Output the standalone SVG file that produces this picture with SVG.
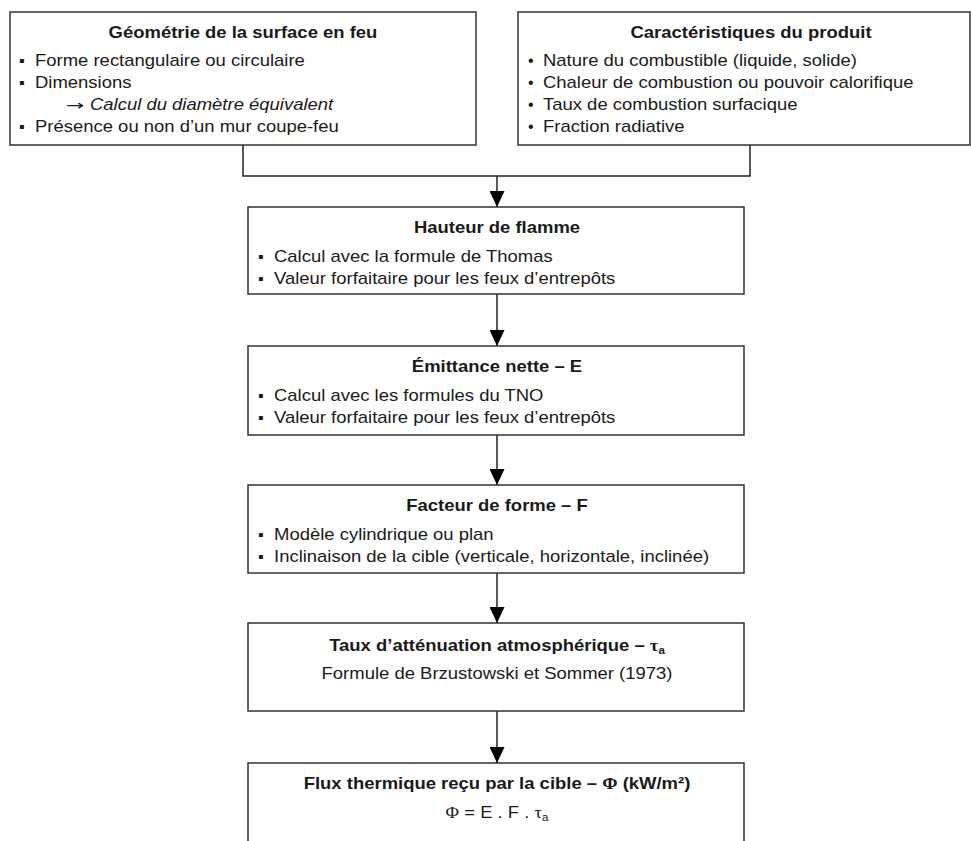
<svg xmlns="http://www.w3.org/2000/svg" width="971" height="841" viewBox="0 0 971 841">
<defs>
<style>
.box{fill:#fff;stroke:#333;stroke-width:1.5}
.t{font-family:"Liberation Sans",Arial,sans-serif;font-size:16px;fill:#1a1a1a}
.b{font-weight:bold;text-anchor:middle}
.c{text-anchor:middle}
.i{font-style:italic}
.sym{font-family:"Liberation Serif","Times New Roman",serif}
.ar{font-family:"DejaVu Sans",sans-serif;font-size:14px;fill:#1a1a1a}
.ln{fill:none;stroke:#222;stroke-width:1.5}
</style>
<marker id="ah" viewBox="0 0 16 15" refX="16" refY="7.5" markerWidth="16" markerHeight="15" markerUnits="userSpaceOnUse" orient="auto">
<path d="M0,0 L16,7.5 L0,15 Z" fill="#000"/>
</marker>
</defs>
<rect width="971" height="841" fill="#fff"/>
<g id="connectors">
<polyline class="ln" points="243,145 243,176 750,176 750,145"/>
<line class="ln" x1="497" y1="176" x2="497" y2="207" marker-end="url(#ah)"/>
<line class="ln" x1="497" y1="294" x2="497" y2="346" marker-end="url(#ah)"/>
<line class="ln" x1="497" y1="435" x2="497" y2="485" marker-end="url(#ah)"/>
<line class="ln" x1="497" y1="573" x2="497" y2="623" marker-end="url(#ah)"/>
<line class="ln" x1="497" y1="711" x2="497" y2="763" marker-end="url(#ah)"/>
</g>
<g id="geometrie">
<rect class="box" x="10" y="12" width="466" height="133"/>
<text class="t b" transform="translate(243,38) scale(1.155,1)">Géométrie de la surface en feu</text>
<text class="t" x="19" y="66">▪</text>
<text class="t" transform="translate(35,66) scale(1.155,1)">Forme rectangulaire ou circulaire</text>
<text class="t" x="19" y="88">▪</text>
<text class="t" transform="translate(35,88) scale(1.155,1)">Dimensions</text>
<text class="ar" transform="translate(66,110) scale(1.55,1)">→</text>
<text class="t i" transform="translate(90,110) scale(1.155,1)">Calcul du diamètre équivalent</text>
<text class="t" x="19" y="132">▪</text>
<text class="t" transform="translate(35,132) scale(1.155,1)">Présence ou non d’un mur coupe-feu</text>
</g>
<g id="produit">
<rect class="box" x="518" y="12" width="452" height="133"/>
<text class="t b" transform="translate(751,38) scale(1.155,1)">Caractéristiques du produit</text>
<text class="t" x="528" y="66">•</text>
<text class="t" transform="translate(543,66) scale(1.155,1)">Nature du combustible (liquide, solide)</text>
<text class="t" x="528" y="88">•</text>
<text class="t" transform="translate(543,88) scale(1.155,1)">Chaleur de combustion ou pouvoir calorifique</text>
<text class="t" x="528" y="110">•</text>
<text class="t" transform="translate(543,110) scale(1.155,1)">Taux de combustion surfacique</text>
<text class="t" x="528" y="132">•</text>
<text class="t" transform="translate(543,132) scale(1.155,1)">Fraction radiative</text>
</g>
<g id="hauteur">
<rect class="box" x="248" y="207" width="496" height="87"/>
<text class="t b" transform="translate(497,233) scale(1.155,1)">Hauteur de flamme</text>
<text class="t" x="258" y="262">▪</text>
<text class="t" transform="translate(274,262) scale(1.155,1)">Calcul avec la formule de Thomas</text>
<text class="t" x="258" y="284">▪</text>
<text class="t" transform="translate(274,284) scale(1.155,1)">Valeur forfaitaire pour les feux d’entrepôts</text>
</g>
<g id="emittance">
<rect class="box" x="248" y="346" width="496" height="89"/>
<text class="t b" transform="translate(497,372) scale(1.155,1)">Émittance nette – E</text>
<text class="t" x="258" y="401">▪</text>
<text class="t" transform="translate(274,401) scale(1.155,1)">Calcul avec les formules du TNO</text>
<text class="t" x="258" y="423">▪</text>
<text class="t" transform="translate(274,423) scale(1.155,1)">Valeur forfaitaire pour les feux d’entrepôts</text>
</g>
<g id="facteur">
<rect class="box" x="248" y="485" width="496" height="88"/>
<text class="t b" transform="translate(497,511) scale(1.155,1)">Facteur de forme – F</text>
<text class="t" x="258" y="540">▪</text>
<text class="t" transform="translate(274,540) scale(1.155,1)">Modèle cylindrique ou plan</text>
<text class="t" x="258" y="562">▪</text>
<text class="t" transform="translate(274,562) scale(1.155,1)">Inclinaison de la cible (verticale, horizontale, inclinée)</text>
</g>
<g id="attenuation">
<rect class="box" x="248" y="623" width="496" height="88"/>
<text class="t b" transform="translate(497,651) scale(1.155,1)">Taux d’atténuation atmosphérique – <tspan class="sym">τ</tspan><tspan font-size="10" dy="3">a</tspan></text>
<text class="t c" transform="translate(497,679) scale(1.155,1)">Formule de Brzustowski et Sommer (1973)</text>
</g>
<g id="flux">
<rect class="box" x="248" y="763" width="496" height="100"/>
<text class="t b" transform="translate(497,789) scale(1.155,1)">Flux thermique reçu par la cible – <tspan class="sym">Φ</tspan> (kW/m²)</text>
<text class="t c" transform="translate(497,818) scale(1.155,1)"><tspan class="sym">Φ</tspan> = E . F . <tspan class="sym">τ</tspan><tspan font-size="10" dy="3">a</tspan></text>
</g>
</svg>
